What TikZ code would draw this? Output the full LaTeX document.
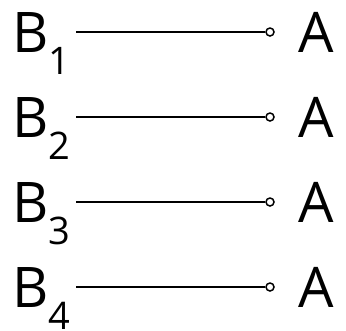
\documentclass[tikz,border=0pt]{standalone}
\usepackage{fontspec}
\setmainfont{Open Sans}
\tikzset{
  lbl/.style={inner sep=0pt, font=\fontsize{56}{64}\selectfont},
  endpt/.style={circle, draw, fill=white, minimum size=8pt, inner sep=0pt, line width=1.5pt}
}
\newcommand{\subidx}[1]{\raisebox{-22pt}{\fontsize{38}{44}\selectfont #1}}
\begin{document}
\begin{tikzpicture}[x=1pt,y=1pt]
  \useasboundingbox (0,0) rectangle (346,-330);
  \foreach \i in {1,...,4} {
    \node[lbl, anchor=base west] (b\i) at (12,{-52 - (\i-1)*85}) {B\subidx{\i}};
    \node[endpt] (t\i) at (270,{-32 - (\i-1)*85}) {};
    \node[lbl, anchor=base west] (a\i) at (298,{-52 - (\i-1)*85}) {A};
    \draw[line width=1.5pt] ([xshift=6pt]b\i.east |- t\i) -- (t\i);
  }
\end{tikzpicture}
\end{document}
